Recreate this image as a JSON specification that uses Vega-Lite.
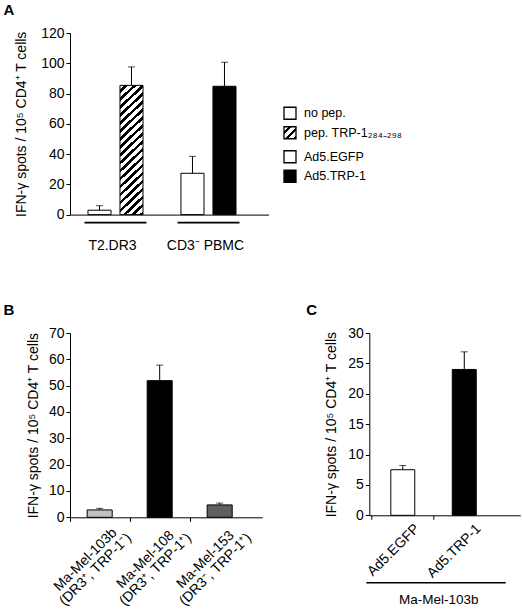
{
  "$schema": "https://vega.github.io/schema/vega-lite/v6.json",
  "background": "white",
  "padding": {"left": 3, "top": 3, "right": 0, "bottom": 0},
  "config": {
    "font": "Liberation Sans",
    "view": {"stroke": null},
    "axis": {
      "grid": false, "domainColor": "black", "tickColor": "black", "labelColor": "black", "titleColor": "black",
      "labelFont": "Liberation Sans", "titleFont": "Liberation Sans", "titleFontWeight": "normal",
      "labelFontSize": 14, "titleFontSize": 14, "tickSize": 4, "domainWidth": 1, "tickWidth": 1, "labelPadding": 2,
      "labelOverlap": false, "labelBound": false
    },
    "title": {"font": "Liberation Sans", "fontSize": 15, "fontWeight": "bold", "anchor": "start", "frame": "group", "color": "black", "offset": 7.7}
  },
  "datasets": {
    "panelA": [
      {"group": "T2.DR3", "arm": "control", "condition": "no pep.", "value": 2.9, "upper": 5.9},
      {"group": "T2.DR3", "arm": "treatment", "condition": "pep. TRP-1₂₈₄₋₂₉₈", "value": 85.4, "upper": 97.6},
      {"group": "CD3⁻ PBMC", "arm": "control", "condition": "Ad5.EGFP", "value": 27.3, "upper": 38.5},
      {"group": "CD3⁻ PBMC", "arm": "treatment", "condition": "Ad5.TRP-1", "value": 84.8, "upper": 100.7}
    ],
    "panelB": [
      {"line": "Ma-Mel-103b\n(DR3⁺, TRP-1⁻)", "value": 2.8, "upper": 3.4},
      {"line": "Ma-Mel-108\n(DR3⁺, TRP-1⁺)", "value": 51.9, "upper": 57.8},
      {"line": "Ma-Mel-153\n(DR3⁻, TRP-1⁺)", "value": 4.7, "upper": 5.4}
    ],
    "panelC": [
      {"vector": "Ad5.EGFP", "value": 7.5, "upper": 8.2},
      {"vector": "Ad5.TRP-1", "value": 24.0, "upper": 26.9}
    ]
  },
  "spacing": 50,
  "vconcat": [
    {
      "bounds": "flush",
      "spacing": 15,
      "hconcat": [
        {
          "width": 198.5,
          "height": 181.6,
          "title": {"text": "A", "dx": -66.5},
          "data": {"name": "panelA"},
          "layer": [
            {
              "transform": [{"filter": "datum.arm === 'control'"}],
              "mark": {"type": "bar", "fill": "white", "stroke": "black", "strokeWidth": 1},
              "encoding": {
                "x": {"field": "group", "type": "nominal", "sort": ["T2.DR3", "CD3⁻ PBMC"],
                      "scale": {"paddingInner": 0.333, "paddingOuter": 0.234, "align": 0.333},
                      "axis": {"title": null, "ticks": false, "tickSize": 0, "labelAngle": 0, "labelPadding": 24, "labelFontSize": 14, "labelOffset": -3}},
                "xOffset": {"field": "arm", "type": "nominal", "sort": ["control", "treatment"], "scale": {"paddingInner": 0.28, "paddingOuter": 0.109}},
                "y": {"field": "value", "type": "quantitative", "title": "IFN-γ spots / 10⁵ CD4⁺ T cells",
                      "scale": {"domain": [0, 120], "nice": false},
                      "axis": {"values": [0, 20, 40, 60, 80, 100, 120], "tickCount": 20, "titlePadding": 12}}
              }
            },
            {
              "transform": [{"filter": "datum.condition === 'Ad5.TRP-1'"}],
              "mark": {"type": "bar", "fill": "black", "stroke": "black", "strokeWidth": 1},
              "encoding": {
                "x": {"field": "group", "type": "nominal", "sort": ["T2.DR3", "CD3⁻ PBMC"]},
                "xOffset": {"field": "arm", "type": "nominal", "sort": ["control", "treatment"]},
                "y": {"field": "value", "type": "quantitative", "title": "IFN-γ spots / 10⁵ CD4⁺ T cells"}
              }
            },
            {
              "transform": [{"filter": "datum.group === 'T2.DR3' && datum.arm === 'treatment'"}],
              "mark": {"type": "bar", "stroke": "black", "strokeWidth": 1,
                "fill": {"gradient": "linear", "x1": 0, "y1": 0, "x2": 0.192, "y2": 1.137, "stops": [
                  {"offset": 0, "color": "white"}, {"offset": 0.02895, "color": "white"}, {"offset": 0.02895, "color": "black"}, {"offset": 0.05263, "color": "black"},
                  {"offset": 0.05263, "color": "white"}, {"offset": 0.08158, "color": "white"}, {"offset": 0.08158, "color": "black"}, {"offset": 0.10526, "color": "black"},
                  {"offset": 0.10526, "color": "white"}, {"offset": 0.13421, "color": "white"}, {"offset": 0.13421, "color": "black"}, {"offset": 0.15789, "color": "black"},
                  {"offset": 0.15789, "color": "white"}, {"offset": 0.18684, "color": "white"}, {"offset": 0.18684, "color": "black"}, {"offset": 0.21053, "color": "black"},
                  {"offset": 0.21053, "color": "white"}, {"offset": 0.23947, "color": "white"}, {"offset": 0.23947, "color": "black"}, {"offset": 0.26316, "color": "black"},
                  {"offset": 0.26316, "color": "white"}, {"offset": 0.29211, "color": "white"}, {"offset": 0.29211, "color": "black"}, {"offset": 0.31579, "color": "black"},
                  {"offset": 0.31579, "color": "white"}, {"offset": 0.34474, "color": "white"}, {"offset": 0.34474, "color": "black"}, {"offset": 0.36842, "color": "black"},
                  {"offset": 0.36842, "color": "white"}, {"offset": 0.39737, "color": "white"}, {"offset": 0.39737, "color": "black"}, {"offset": 0.42105, "color": "black"},
                  {"offset": 0.42105, "color": "white"}, {"offset": 0.45, "color": "white"}, {"offset": 0.45, "color": "black"}, {"offset": 0.47368, "color": "black"},
                  {"offset": 0.47368, "color": "white"}, {"offset": 0.50263, "color": "white"}, {"offset": 0.50263, "color": "black"}, {"offset": 0.52632, "color": "black"},
                  {"offset": 0.52632, "color": "white"}, {"offset": 0.55526, "color": "white"}, {"offset": 0.55526, "color": "black"}, {"offset": 0.57895, "color": "black"},
                  {"offset": 0.57895, "color": "white"}, {"offset": 0.60789, "color": "white"}, {"offset": 0.60789, "color": "black"}, {"offset": 0.63158, "color": "black"},
                  {"offset": 0.63158, "color": "white"}, {"offset": 0.66053, "color": "white"}, {"offset": 0.66053, "color": "black"}, {"offset": 0.68421, "color": "black"},
                  {"offset": 0.68421, "color": "white"}, {"offset": 0.71316, "color": "white"}, {"offset": 0.71316, "color": "black"}, {"offset": 0.73684, "color": "black"},
                  {"offset": 0.73684, "color": "white"}, {"offset": 0.76579, "color": "white"}, {"offset": 0.76579, "color": "black"}, {"offset": 0.78947, "color": "black"},
                  {"offset": 0.78947, "color": "white"}, {"offset": 0.81842, "color": "white"}, {"offset": 0.81842, "color": "black"}, {"offset": 0.84211, "color": "black"},
                  {"offset": 0.84211, "color": "white"}, {"offset": 0.87105, "color": "white"}, {"offset": 0.87105, "color": "black"}, {"offset": 0.89474, "color": "black"},
                  {"offset": 0.89474, "color": "white"}, {"offset": 0.92368, "color": "white"}, {"offset": 0.92368, "color": "black"}, {"offset": 0.94737, "color": "black"},
                  {"offset": 0.94737, "color": "white"}, {"offset": 0.97632, "color": "white"}, {"offset": 0.97632, "color": "black"}, {"offset": 1, "color": "black"}
                ]}},
              "encoding": {
                "x": {"field": "group", "type": "nominal", "sort": ["T2.DR3", "CD3⁻ PBMC"]},
                "xOffset": {"field": "arm", "type": "nominal", "sort": ["control", "treatment"]},
                "y": {"field": "value", "type": "quantitative", "title": "IFN-γ spots / 10⁵ CD4⁺ T cells"}
              }
            },
            {
              "mark": {"type": "rule", "color": "black", "strokeWidth": 1},
              "encoding": {
                "x": {"field": "group", "type": "nominal", "sort": ["T2.DR3", "CD3⁻ PBMC"]},
                "xOffset": {"field": "arm", "type": "nominal", "sort": ["control", "treatment"]},
                "y": {"field": "value", "type": "quantitative", "title": "IFN-γ spots / 10⁵ CD4⁺ T cells"},
                "y2": {"field": "upper"}
              }
            },
            {
              "mark": {"type": "tick", "orient": "horizontal", "color": "black", "size": 7, "thickness": 1},
              "encoding": {
                "x": {"field": "group", "type": "nominal", "sort": ["T2.DR3", "CD3⁻ PBMC"]},
                "xOffset": {"field": "arm", "type": "nominal", "sort": ["control", "treatment"]},
                "y": {"field": "upper", "type": "quantitative", "title": "IFN-γ spots / 10⁵ CD4⁺ T cells"}
              }
            },
            {
              "transform": [{"filter": "datum.arm === 'control'"}],
              "mark": {"type": "rule", "color": "black", "strokeWidth": 1.6, "yOffset": 8},
              "encoding": {
                "x": {"field": "group", "type": "nominal", "sort": ["T2.DR3", "CD3⁻ PBMC"], "bandPosition": 0},
                "x2": {"field": "group", "bandPosition": 1},
                "y": {"datum": 0, "type": "quantitative"}
              }
            }
          ]
        },
        {
          "width": 12,
          "height": 160,
          "data": {"name": "panelA"},
          "encoding": {
            "y": {"field": "group", "type": "nominal", "sort": ["T2.DR3", "CD3⁻ PBMC"], "axis": null,
                  "scale": {"type": "band", "paddingInner": 0.103, "paddingOuter": 0.89, "align": 0.91}},
            "yOffset": {"field": "arm", "type": "nominal", "sort": ["control", "treatment"], "scale": {"type": "band", "paddingInner": 0, "paddingOuter": 0}}
          },
          "layer": [
            {
              "transform": [{"filter": "datum.arm === 'control'"}],
              "mark": {"type": "point", "shape": "square", "size": 144, "filled": true, "fill": "white", "stroke": "black", "strokeWidth": 1.3, "opacity": 1}
            },
            {
              "transform": [{"filter": "datum.condition === 'Ad5.TRP-1'"}],
              "mark": {"type": "point", "shape": "square", "size": 144, "filled": true, "fill": "black", "stroke": "black", "strokeWidth": 1.3, "opacity": 1}
            },
            {
              "transform": [{"filter": "datum.group === 'T2.DR3' && datum.arm === 'treatment'"}],
              "mark": {"type": "point", "shape": "square", "size": 144, "filled": true, "stroke": "black", "strokeWidth": 1.3, "opacity": 1,
                "fill": {"gradient": "linear", "x1": 0, "y1": 0, "x2": 1, "y2": 1, "stops": [
                  {"offset": 0, "color": "white"}, {"offset": 0.18333, "color": "white"}, {"offset": 0.18333, "color": "black"}, {"offset": 0.33333, "color": "black"},
                  {"offset": 0.33333, "color": "white"}, {"offset": 0.51667, "color": "white"}, {"offset": 0.51667, "color": "black"}, {"offset": 0.66667, "color": "black"},
                  {"offset": 0.66667, "color": "white"}, {"offset": 0.85, "color": "white"}, {"offset": 0.85, "color": "black"}, {"offset": 1, "color": "black"}
                ]}}
            },
            {
              "mark": {"type": "text", "align": "left", "baseline": "middle", "dx": 14, "fontSize": 12.5, "color": "black"},
              "encoding": {"text": {"field": "condition"}}
            }
          ]
        }
      ]
    },
    {
      "bounds": "flush",
      "spacing": 106.3,
      "resolve": {"scale": {"color": "independent"}},
      "hconcat": [
        {
          "width": 192.2,
          "height": 184.3,
          "title": {"text": "B", "dx": -66.5},
          "data": {"name": "panelB"},
          "encoding": {
            "x": {"field": "line", "type": "nominal", "sort": null,
                  "scale": {"paddingInner": 0.583, "paddingOuter": 0.393, "align": 0.364},
                  "axis": {"title": null, "labelAngle": -45, "labelAlign": "center", "labelBaseline": "top",
                           "labelExpr": "split(datum.label, '\\n')", "bandPosition": -0.68,
                           "labelOffset": -19, "labelPadding": 33, "labelFontSize": 14, "labelLineHeight": 14, "labelLimit": 300}}
          },
          "layer": [
            {
              "mark": {"type": "bar", "stroke": "black", "strokeWidth": 1},
              "encoding": {
                "y": {"field": "value", "type": "quantitative", "title": "IFN-γ spots / 10⁵ CD4⁺ T cells",
                      "scale": {"domain": [0, 70], "nice": false},
                      "axis": {"values": [0, 10, 20, 30, 40, 50, 60, 70], "tickCount": 20, "titlePadding": 8}},
                "color": {"field": "line", "type": "nominal", "sort": null, "legend": null,
                          "scale": {"range": ["#c0c0c0", "#000000", "#606060"]}}
              }
            },
            {
              "mark": {"type": "rule", "color": "black", "strokeWidth": 1},
              "encoding": {
                "y": {"field": "value", "type": "quantitative", "title": "IFN-γ spots / 10⁵ CD4⁺ T cells"},
                "y2": {"field": "upper"}
              }
            },
            {
              "mark": {"type": "tick", "orient": "horizontal", "color": "black", "size": 7, "thickness": 1},
              "encoding": {
                "y": {"field": "upper", "type": "quantitative", "title": "IFN-γ spots / 10⁵ CD4⁺ T cells"}
              }
            }
          ]
        },
        {
          "width": 151,
          "height": 182.3,
          "title": {"text": "C", "dx": -63},
          "data": {"name": "panelC"},
          "encoding": {
            "x": {"field": "vector", "type": "nominal", "sort": null,
                  "scale": {"paddingInner": 0.61, "paddingOuter": 0.533, "align": 0.328},
                  "axis": {"title": "Ma-Mel-103b", "titleFontSize": 13.5, "titleX": 69, "titlePadding": 12,
                           "labelAngle": -45, "labelAlign": "right", "labelBaseline": "top",
                           "bandPosition": -0.79, "labelOffset": 9.5, "labelPadding": 1.9, "labelFontSize": 14}}
          },
          "layer": [
            {
              "mark": {"type": "bar", "stroke": "black", "strokeWidth": 1},
              "encoding": {
                "y": {"field": "value", "type": "quantitative", "title": "IFN-γ spots / 10⁵ CD4⁺ T cells",
                      "scale": {"domain": [0, 30], "nice": false},
                      "axis": {"values": [0, 5, 10, 15, 20, 25, 30], "tickCount": 20, "titlePadding": 9}},
                "color": {"field": "vector", "type": "nominal", "sort": null, "legend": null,
                          "scale": {"range": ["#ffffff", "#000000"]}}
              }
            },
            {
              "mark": {"type": "rule", "color": "black", "strokeWidth": 1},
              "encoding": {
                "y": {"field": "value", "type": "quantitative", "title": "IFN-γ spots / 10⁵ CD4⁺ T cells"},
                "y2": {"field": "upper"}
              }
            },
            {
              "mark": {"type": "tick", "orient": "horizontal", "color": "black", "size": 7, "thickness": 1},
              "encoding": {
                "y": {"field": "upper", "type": "quantitative", "title": "IFN-γ spots / 10⁵ CD4⁺ T cells"}
              }
            },
            {
              "transform": [{"filter": "datum.vector === 'Ad5.EGFP'"}],
              "mark": {"type": "rule", "color": "black", "strokeWidth": 1.6, "yOffset": 67.4, "xOffset": -36.5, "x2Offset": 41.5},
              "encoding": {
                "x": {"datum": "Ad5.EGFP", "type": "nominal"},
                "x2": {"datum": "Ad5.TRP-1"},
                "y": {"datum": 0, "type": "quantitative"}
              }
            }
          ]
        }
      ]
    }
  ]
}
